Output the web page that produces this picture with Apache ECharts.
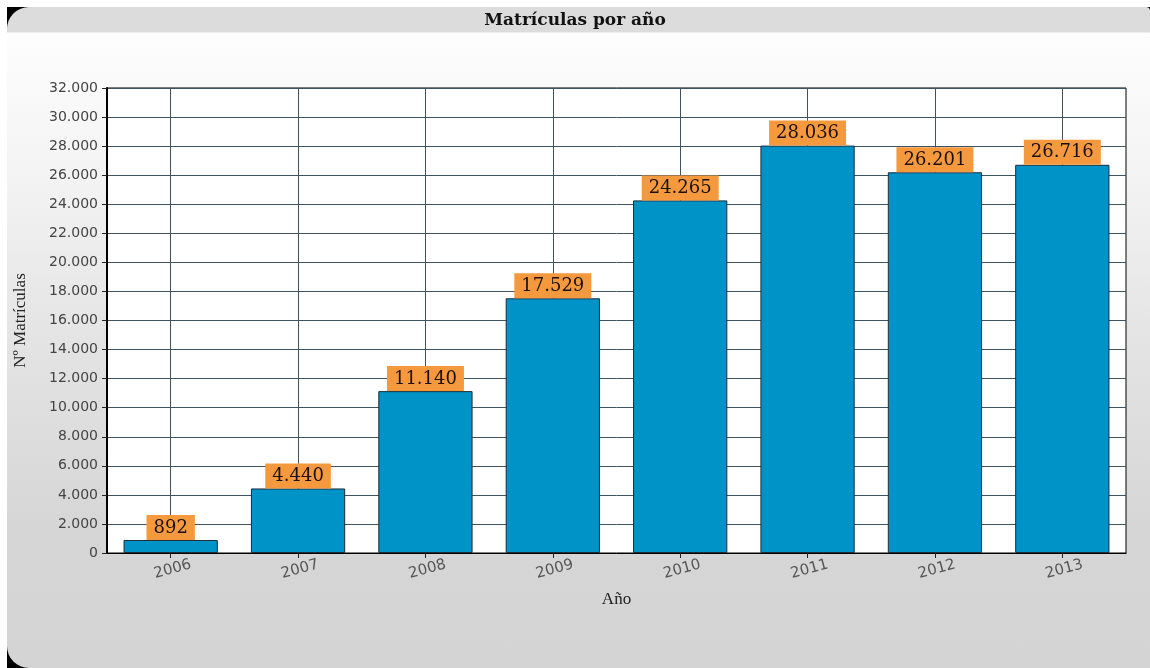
<!DOCTYPE html>
<html>
<head>
<meta charset="utf-8">
<script src="https://cdn.jsdelivr.net/npm/echarts@6/dist/echarts.min.js"></script>
<style>
  html, body { margin: 0; padding: 0; background: #ffffff; width: 1150px; height: 668px; overflow: hidden; }
  #frame { position: absolute; left: 7px; top: 7px; width: 1143px; height: 661px; background: #000; }
  #bg { position: absolute; left: 0; top: 0; width: 100%; height: 100%;
        border-radius: 22px 4px 0 22px;
        background: linear-gradient(to bottom, #dcdcdc 0px, #dcdcdc 25px, #fdfdfd 26px, #f4f4f4 160px, #e4e4e4 330px, #d6d6d6 520px, #d4d4d4 661px); }
  #chart { position: absolute; left: 0; top: 0; width: 1150px; height: 668px; }
</style>
</head>
<body>
<div id="frame"><div id="bg"></div></div>
<div id="chart"></div>
<script>
const titleText = 'Matrículas por año';
const xAxisName = 'Año';
const yAxisName = 'Nº Matrículas';
const years = ['2006', '2007', '2008', '2009', '2010', '2011', '2012', '2013'];
const enrolments = [892, 4440, 11140, 17529, 24265, 28036, 26201, 26716];
const yMin = 0;
const yMax = 32000;
const yStep = 2000;

function fmt(v) {
  return String(v).replace(/\B(?=(\d{3})+(?!\d))/g, '.');
}

const chart = echarts.init(document.getElementById('chart'), null, { renderer: 'canvas' });
chart.setOption({
  backgroundColor: 'transparent',
  animation: false,
  title: {
    text: titleText,
    left: 'center',
    top: 7,
    textStyle: { fontFamily: 'DejaVu Serif', fontWeight: 'bold', fontSize: 17, color: '#111' }
  },
  grid: {
    left: 107, right: 24, top: 88, bottom: 115,
    show: true, backgroundColor: '#ffffff', borderColor: '#000000', borderWidth: 1
  },
  xAxis: {
    type: 'category',
    data: years,
    name: xAxisName,
    nameLocation: 'middle',
    nameGap: 38,
    nameTextStyle: { fontFamily: 'Liberation Serif', fontSize: 17, color: '#222' },
    axisLine: { lineStyle: { color: '#000', width: 1 } },
    axisTick: { show: true, alignWithLabel: true, length: 5, lineStyle: { color: '#222' } },
    axisLabel: {
      rotate: 15, align: 'center', verticalAlign: 'top', margin: 9,
      fontFamily: 'DejaVu Sans', fontSize: 15, color: '#555'
    },
    splitLine: { show: false }
  },
  yAxis: {
    type: 'value',
    min: yMin, max: yMax, interval: yStep,
    name: yAxisName,
    nameLocation: 'middle',
    nameGap: 78,
    nameTextStyle: { fontFamily: 'Liberation Serif', fontSize: 17, color: '#222' },
    axisLine: { show: true, lineStyle: { color: '#000', width: 2 } },
    axisTick: { show: true, length: 5, lineStyle: { color: '#222' } },
    axisLabel: { formatter: fmt, fontFamily: 'DejaVu Sans', fontSize: 14, color: '#444', margin: 9 },
    splitLine: { show: true, lineStyle: { color: '#3e5462', width: 1 } }
  },
  series: [
    {
      type: 'line',
      data: [],
      z: 1,
      silent: true,
      markLine: {
        z: 1,
        silent: true,
        symbol: ['none', 'none'],
        label: { show: false },
        lineStyle: { color: '#3e5462', width: 1, type: 'solid' },
        data: years.map(y => ({ xAxis: y }))
      }
    },
    {
      type: 'bar',
      data: enrolments,
      z: 3,
      barCategoryGap: '26%',
      itemStyle: { color: '#0093c8', borderColor: '#1c2c38', borderWidth: 1 },
      label: {
        show: true,
        position: 'top',
        distance: 0,
        formatter: p => fmt(p.value),
        fontFamily: 'DejaVu Serif',
        fontSize: 18,
        color: '#1a1010',
        backgroundColor: '#f5993f',
        padding: [4, 7, 3, 7]
      }
    }
  ]
});
</script>
</body>
</html>
